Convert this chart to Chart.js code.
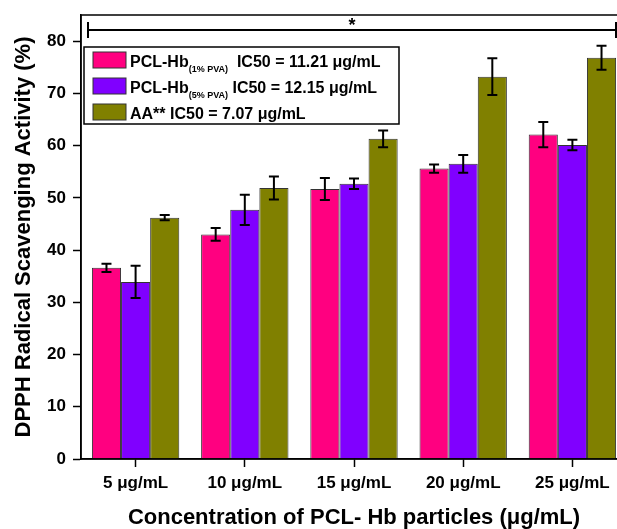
<!DOCTYPE html>
<html>
<head>
<meta charset="utf-8">
<script src="https://cdn.jsdelivr.net/npm/chart.js@4"></script>
<style>
  body { margin: 0; overflow: hidden; background: #fff; }
  #wrap { width: 632px; height: 529px; }
</style>
</head>
<body>
<div id="wrap"><canvas id="dpphChart" width="632" height="529"></canvas></div>
<script>
const categories = ['5 μg/mL', '10 μg/mL', '15 μg/mL', '20 μg/mL', '25 μg/mL'];

const pva1Values = [36.6, 43.0, 51.7, 55.6, 62.1];
const pva1Errors = [0.8, 1.2, 2.1, 0.8, 2.4];

const pva5Values = [33.9, 47.7, 52.7, 56.5, 60.1];
const pva5Errors = [3.1, 2.9, 1.0, 1.7, 1.0];

const aaValues = [46.2, 51.9, 61.3, 73.2, 76.8];
const aaErrors = [0.5, 2.2, 1.6, 3.5, 2.3];

const yTicks = [0, 10, 20, 30, 40, 50, 60, 70, 80];

// legend rows: main text, subscript, rest
const legendRows = [
    { color: '#FF0080', main: 'PCL-Hb', sub: '(1% PVA)', rest: '  IC50 = 11.21 μg/mL' },
    { color: '#8000FF', main: 'PCL-Hb', sub: '(5% PVA)', rest: ' IC50 = 12.15 μg/mL' },
    { color: '#808000', main: 'AA** IC50 = 7.07 μg/mL', sub: '', rest: '' },
];

const FONT = '"Liberation Sans", Arial, sans-serif';

// 오차 막대 그리기
const errorBarPlugin = {
    id: 'errorBars',
    afterDatasetsDraw(chart) {
        const ctx = chart.ctx;
        const yScale = chart.scales.y;
        ctx.save();
        ctx.strokeStyle = '#000';
        ctx.lineWidth = 2;
        chart.data.datasets.forEach((ds, i) => {
            const meta = chart.getDatasetMeta(i);
            meta.data.forEach((bar, j) => {
                const v = ds.data[j];
                const e = ds.errors[j];
                const yTop = yScale.getPixelForValue(v + e);
                const yBot = yScale.getPixelForValue(v - e);
                const x = bar.x;
                ctx.beginPath();
                ctx.moveTo(x, yTop); ctx.lineTo(x, yBot);
                ctx.moveTo(x - 5, yTop); ctx.lineTo(x + 5, yTop);
                ctx.moveTo(x - 5, yBot); ctx.lineTo(x + 5, yBot);
                ctx.stroke();
            });
        });
        ctx.restore();
    }
};

// 테두리, 유의성 표시, 범례
const framePlugin = {
    id: 'frameAndLegend',
    afterDraw(chart) {
        const ctx = chart.ctx;
        const a = chart.chartArea;
        ctx.save();
        ctx.strokeStyle = '#000';
        ctx.lineWidth = 1.5;
        ctx.strokeRect(a.left, a.top, a.right - a.left, a.bottom - a.top);

        // significance bracket
        const bx1 = a.left + 7, bx2 = 616, by = a.top + 15;
        ctx.lineWidth = 2;
        ctx.beginPath();
        ctx.moveTo(bx1, by); ctx.lineTo(bx2, by);
        ctx.moveTo(bx1, by - 8); ctx.lineTo(bx1, by + 8);
        ctx.moveTo(bx2, by - 8); ctx.lineTo(bx2, by + 8);
        ctx.stroke();
        ctx.fillStyle = '#000';
        ctx.font = 'bold 18px ' + FONT;
        ctx.textAlign = 'center';
        ctx.textBaseline = 'middle';
        ctx.fillText('*', (bx1 + bx2) / 2, by - 4);

        // legend box
        const lx = a.left + 3, ly = a.top + 32, lw = 315, lh = 77;
        ctx.fillStyle = '#fff';
        ctx.fillRect(lx, ly, lw, lh);
        ctx.lineWidth = 1.5;
        ctx.strokeRect(lx, ly, lw, lh);
        ctx.textAlign = 'left';
        ctx.textBaseline = 'alphabetic';
        legendRows.forEach((row, i) => {
            const sy = ly + 5 + i * 26;
            ctx.fillStyle = row.color;
            ctx.fillRect(lx + 9, sy, 33, 16);
            ctx.strokeStyle = '#333';
            ctx.lineWidth = 1;
            ctx.strokeRect(lx + 9, sy, 33, 16);
            let tx = lx + 46;
            const base = sy + 15;
            ctx.fillStyle = '#000';
            ctx.font = 'bold 16px ' + FONT;
            ctx.fillText(row.main, tx, base);
            tx += ctx.measureText(row.main).width;
            if (row.sub) {
                ctx.font = 'bold 9px ' + FONT;
                ctx.fillText(row.sub, tx, base + 5);
                tx += ctx.measureText(row.sub).width;
                ctx.font = 'bold 16px ' + FONT;
                ctx.fillText(row.rest, tx, base);
            }
        });
        ctx.restore();
    }
};

const barBase = { borderColor: '#333', borderWidth: 1, categoryPercentage: 0.8, barPercentage: 1.0 };

new Chart(document.getElementById('dpphChart'), {
    type: 'bar',
    data: {
        labels: categories,
        datasets: [
            { ...barBase, label: 'PCL-Hb (1% PVA)', data: pva1Values, errors: pva1Errors, backgroundColor: '#FF0080' },
            { ...barBase, label: 'PCL-Hb (5% PVA)', data: pva5Values, errors: pva5Errors, backgroundColor: '#8000FF' },
            { ...barBase, label: 'AA**', data: aaValues, errors: aaErrors, backgroundColor: '#808000' },
        ],
    },
    options: {
        responsive: false,
        animation: false,
        layout: { padding: { top: 15, right: 5, left: 0, bottom: 0 } },
        plugins: {
            legend: { display: false },
            tooltip: { enabled: false },
        },
        scales: {
            x: {
                offset: true,
                grid: { display: true, drawOnChartArea: false, offset: false, tickLength: 8, tickColor: '#000', tickWidth: 1.5 },
                border: { display: true, color: '#000', width: 1.5 },
                ticks: { color: '#000', font: { family: FONT, size: 17, weight: 'bold' }, padding: 6 },
                title: {
                    display: true,
                    text: 'Concentration of PCL- Hb particles (μg/mL)',
                    color: '#000',
                    font: { family: FONT, size: 22, weight: 'bold', lineHeight: 1.0 },
                    padding: { top: 0, bottom: 0 },
                },
                afterFit(scale) { scale.height = 70; scale.paddingLeft = 0; scale.paddingRight = 0; },
            },
            y: {
                min: 0,
                max: 85,
                grid: { display: true, drawOnChartArea: false, tickLength: 8, tickColor: '#000', tickWidth: 1.5 },
                border: { display: true, color: '#000', width: 1.5 },
                ticks: { stepSize: 10, color: '#000', font: { family: FONT, size: 17, weight: 'bold' }, padding: 7 },
                afterBuildTicks(scale) { scale.ticks = yTicks.map(v => ({ value: v })); },
                title: {
                    display: true,
                    text: 'DPPH Radical Scavenging Activity (%)',
                    color: '#000',
                    font: { family: FONT, size: 22, weight: 'bold', lineHeight: 1.0 },
                    padding: { top: 13, bottom: 0 },
                },
                afterFit(scale) { scale.width = 81; scale.paddingTop = 0; scale.paddingBottom = 0; },
            },
        },
    },
    plugins: [errorBarPlugin, framePlugin],
});
</script>
</body>
</html>
